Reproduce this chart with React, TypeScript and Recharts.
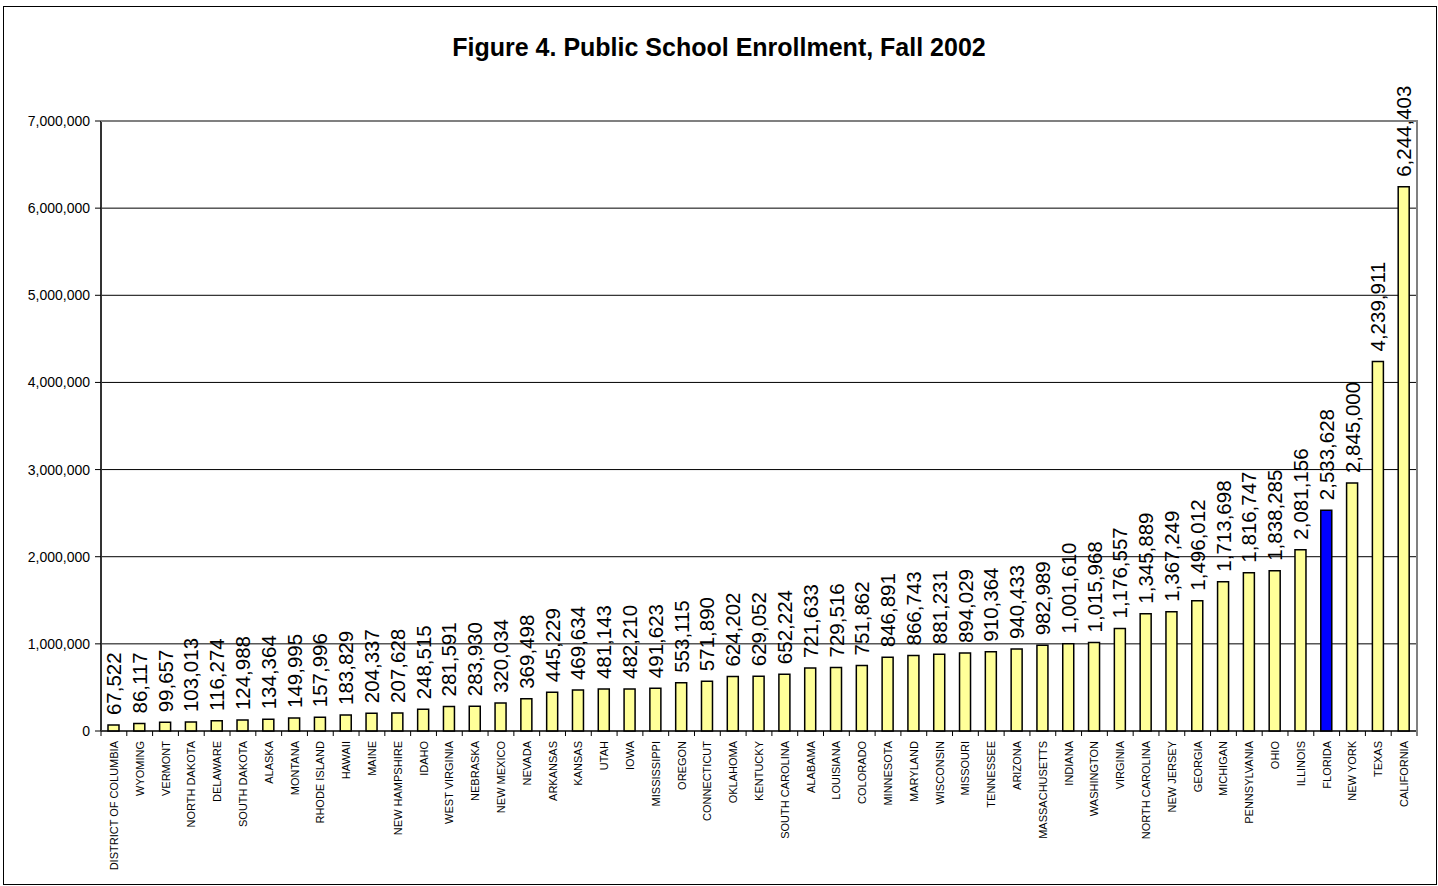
import React from 'react';
import { BarChart, Bar, XAxis, YAxis, CartesianGrid, LabelList, Cell } from 'recharts';

const states = [
  'DISTRICT OF COLUMBIA', 'WYOMING', 'VERMONT', 'NORTH DAKOTA', 'DELAWARE', 'SOUTH DAKOTA', 'ALASKA',
  'MONTANA', 'RHODE ISLAND', 'HAWAII', 'MAINE', 'NEW HAMPSHIRE', 'IDAHO', 'WEST VIRGINIA', 'NEBRASKA',
  'NEW MEXICO', 'NEVADA', 'ARKANSAS', 'KANSAS', 'UTAH', 'IOWA', 'MISSISSIPPI', 'OREGON', 'CONNECTICUT',
  'OKLAHOMA', 'KENTUCKY', 'SOUTH CAROLINA', 'ALABAMA', 'LOUISIANA', 'COLORADO', 'MINNESOTA', 'MARYLAND',
  'WISCONSIN', 'MISSOURI', 'TENNESSEE', 'ARIZONA', 'MASSACHUSETTS', 'INDIANA', 'WASHINGTON', 'VIRGINIA',
  'NORTH CAROLINA', 'NEW JERSEY', 'GEORGIA', 'MICHIGAN', 'PENNSYLVANIA', 'OHIO', 'ILLINOIS', 'FLORIDA',
  'NEW YORK', 'TEXAS', 'CALIFORNIA',
];

const enrollment = [
  67522, 86117, 99657, 103013, 116274, 124988, 134364,
  149995, 157996, 183829, 204337, 207628, 248515, 281591, 283930,
  320034, 369498, 445229, 469634, 481143, 482210, 491623, 553115, 571890,
  624202, 629052, 652224, 721633, 729516, 751862, 846891, 866743,
  881231, 894029, 910364, 940433, 982989, 1001610, 1015968, 1176557,
  1345889, 1367249, 1496012, 1713698, 1816747, 1838285, 2081156, 2533628,
  2845000, 4239911, 6244403,
];

const yTicks = [0, 1000000, 2000000, 3000000, 4000000, 5000000, 6000000, 7000000];
const highlight = 'FLORIDA';

const data = states.map((s, i) => ({ state: s, value: enrollment[i] }));

const W = 1438;
const H = 886;
const PLOT_LEFT = 101;
const PLOT_TOP = 121;
const PLOT_RIGHT = 1417;
const PLOT_BOTTOM = 731;
const BAND = (PLOT_RIGHT - PLOT_LEFT) / states.length;
const FONT = 'Arial, "Liberation Sans", sans-serif';

const fmt = (v: number) => v.toLocaleString('en-US');

const StateTick = (props: any) => {
  const { x, y, payload, index } = props;
  return (
    <g>
      <line x1={x - BAND / 2} y1={y} x2={x - BAND / 2} y2={y + 5} stroke="#000" strokeWidth={1} />
      {index === states.length - 1 && (
        <line x1={x + BAND / 2} y1={y} x2={x + BAND / 2} y2={y + 5} stroke="#000" strokeWidth={1} />
      )}
      <text
        x={x}
        y={y + 10}
        transform={`rotate(-90, ${x}, ${y + 10})`}
        textAnchor="end"
        dominantBaseline="central"
        fontSize={11}
        fontFamily={FONT}
        fill="#000"
      >
        {payload.value}
      </text>
    </g>
  );
};

const ValueLabel = (props: any) => {
  const { x, y, width, value } = props;
  const cx = x + width / 2;
  const ty = y - 10;
  return (
    <text
      x={cx}
      y={ty}
      transform={`rotate(-90, ${cx}, ${ty})`}
      textAnchor="start"
      dominantBaseline="central"
      fontSize={20.5}
      fontFamily={FONT}
      fill="#000"
    >
      {fmt(value)}
    </text>
  );
};

export default function App() {
  return (
    <div style={{ position: 'absolute', left: 0, top: 0, width: W, height: H, background: '#fff' }}>
      <div
        style={{
          position: 'absolute', left: 3, top: 6, width: 1432, height: 877,
          border: '1px solid #000', boxSizing: 'content-box',
        }}
      />
      <div
        style={{
          position: 'absolute', left: 0, top: 32, width: W, textAlign: 'center',
          fontFamily: FONT, fontWeight: 'bold', fontSize: 25, lineHeight: '30px', color: '#000',
        }}
      >
        Figure 4. Public School Enrollment, Fall 2002
      </div>
      <div style={{ position: 'absolute', left: 0, top: 0 }}>
        <BarChart
          width={W}
          height={H}
          data={data}
          margin={{ top: PLOT_TOP, right: W - PLOT_RIGHT, left: 8, bottom: 0 }}
          barSize={11}
        >
          <CartesianGrid vertical={false} stroke="#000" strokeWidth={1} />
          <XAxis
            dataKey="state"
            interval={0}
            height={H - PLOT_BOTTOM}
            tickLine={false}
            tickSize={0}
            tickMargin={0}
            axisLine={{ stroke: '#000', strokeWidth: 1 }}
            tick={<StateTick />}
          />
          <YAxis
            width={PLOT_LEFT - 8}
            domain={[0, 7000000]}
            ticks={yTicks}
            tickFormatter={fmt}
            tickSize={6}
            tickMargin={5}
            tickLine={{ stroke: '#000' }}
            axisLine={{ stroke: '#333', strokeWidth: 2 }}
            tick={{ fontSize: 14, fontFamily: FONT, fill: '#000' }}
            interval={0}
          />
          <Bar dataKey="value" stroke="#000" strokeWidth={1.5} isAnimationActive={false}>
            {data.map((d) => (
              <Cell key={d.state} fill={d.state === highlight ? '#0000FF' : '#FFFF99'} />
            ))}
            <LabelList dataKey="value" content={<ValueLabel />} />
          </Bar>
        </BarChart>
      </div>
      <div
        style={{
          position: 'absolute', left: PLOT_LEFT, top: PLOT_TOP - 1, width: PLOT_RIGHT - PLOT_LEFT - 1,
          height: PLOT_BOTTOM - PLOT_TOP, borderTop: '2px solid #808080', borderRight: '2px solid #808080',
          pointerEvents: 'none',
        }}
      />
    </div>
  );
}
